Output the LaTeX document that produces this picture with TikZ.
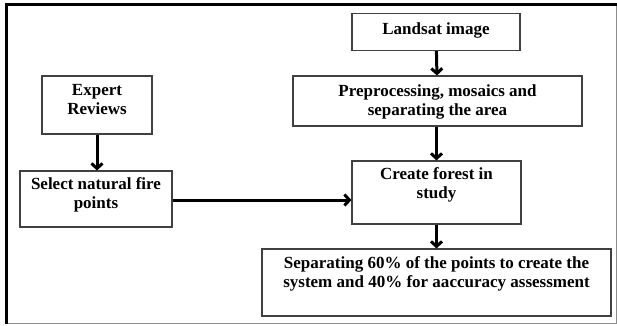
\documentclass[tikz,border=0pt]{standalone}
\usepackage{fontspec}
\setmainfont{Liberation Serif}
\usetikzlibrary{arrows.meta}
\tikzset{
  box/.style={draw=black!75, line width=1.1pt, inner sep=0pt},
  txt/.style={align=center, inner sep=0pt, font=\bfseries\fontsize{17}{19}\selectfont},
  flow/.style={line width=3pt, -{Straight Barb[length=5pt,width=11pt]}},
}
\begin{document}
\begin{tikzpicture}[x=1pt,y=-1pt]
\useasboundingbox (0,0) rectangle (617,325);
% outer frame
\draw[black!45, line width=1pt] (616,4) -- (616,323) -- (6,323);
\draw[black, line width=3pt] (6,323.5) -- (6,4) -- (616.5,4);
% boxes
\node[box, minimum width=168pt, minimum height=37pt] (land) at (436,32) {};
\node[box, minimum width=289pt, minimum height=50pt] (pre) at (437.5,101) {};
\node[box, minimum width=169pt, minimum height=63pt] (create) at (436.5,192.5) {};
\node[box, minimum width=349pt, minimum height=67pt] (sep) at (436.5,282.5) {};
\node[box, minimum width=110pt, minimum height=58pt] (expert) at (97,105) {};
\node[box, minimum width=152pt, minimum height=56pt] (select) at (96,199) {};
% texts
\node[txt] (landT) at (436,30) {Landsat image};
\node[txt] (preT) at (437.5,101.5) {Preprocessing, mosaics and\\separating the area};
\node[txt] (createT) at (436.5,184.5) {Create forest in\\study};
\node[txt] (sepT) at (436.5,273.5) {Separating 60\% of the points to create the\\system and 40\% for aaccuracy assessment};
\node[txt] (expertT) at (97,100) {Expert\\Reviews};
\node[txt] (selectT) at (96,195) {Select natural fire\\points};
% connectors
\draw[flow] (land) -- (pre);
\draw[flow] (pre.south -| create.north) -- (create);
\draw[flow] (create) -- (create |- sep.north);
\draw[flow] (expert) -- (expert |- select.north);
\draw[flow] (select.east |- 0,200) -- (create.west |- 0,200);
\end{tikzpicture}
\end{document}
